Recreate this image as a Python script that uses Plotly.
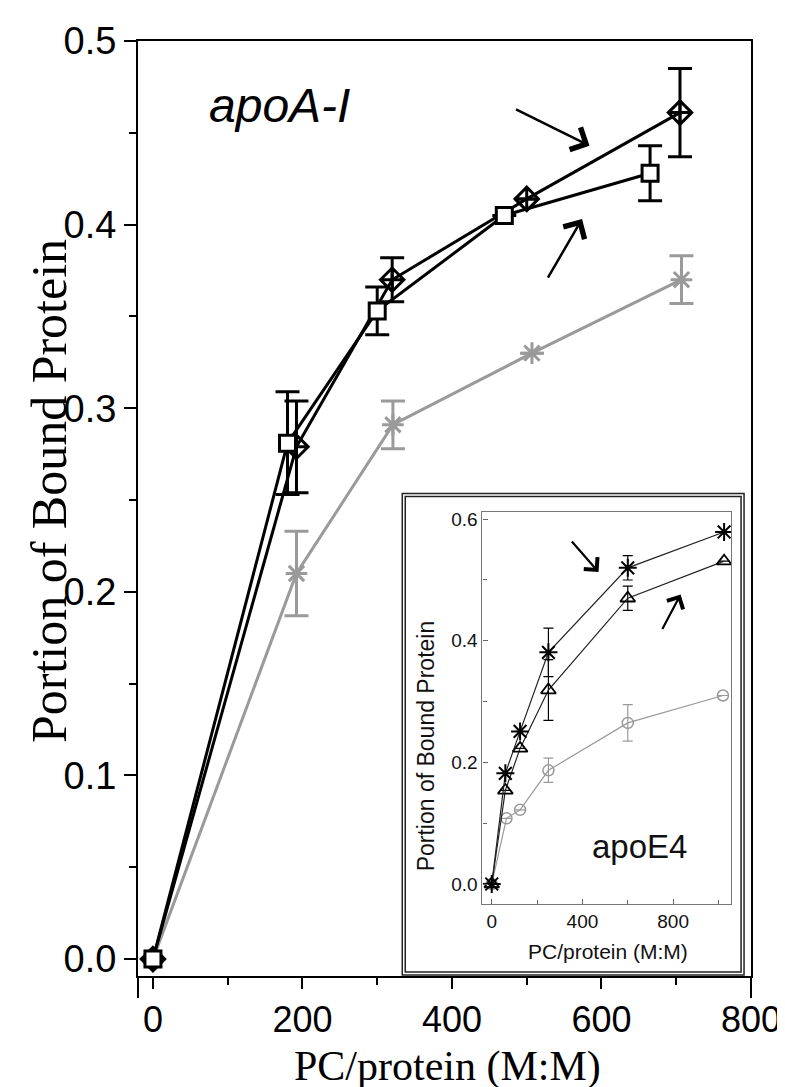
import plotly.graph_objects as go

nan = float("nan")

# ---------------- main chart data (apoA-I) ----------------
sq_x = [0, 180, 300, 470, 665]
sq_y = [0, 0.281, 0.353, 0.405, 0.428]
sq_err = [nan, 0.028, 0.013, nan, 0.015]

dm_x = [0, 192, 320, 500, 705]
dm_y = [0, 0.279, 0.370, 0.414, 0.461]
dm_err = [nan, 0.025, 0.012, nan, 0.024]

ga_x = [0, 192, 321, 507, 707]
ga_y = [0, 0.210, 0.291, 0.330, 0.370]
ga_err = [nan, 0.023, 0.013, nan, 0.013]

# ---------------- inset data (apoE4) ----------------
ia_x = [0, 60, 125, 250, 600, 1025]
ia_y = [0, 0.182, 0.251, 0.381, 0.520, 0.579]
ia_err = [nan, nan, nan, 0.040, 0.020, nan]

it_x = [0, 60, 125, 250, 600, 1025]
it_y = [0, 0.154, 0.223, 0.319, 0.470, 0.531]
it_err = [nan, nan, nan, 0.050, 0.020, nan]

ic_x = [0, 65, 125, 250, 600, 1020]
ic_y = [0, 0.108, 0.122, 0.187, 0.265, 0.310]
ic_err = [nan, nan, nan, 0.020, 0.030, nan]

main_ticks_x = [0, 200, 400, 600, 800]
main_ticks_y = [0.0, 0.1, 0.2, 0.3, 0.4, 0.5]
inset_ticks_x = [0, 400, 800]
inset_ticks_y = [0.0, 0.2, 0.4, 0.6]

SANS = "Liberation Sans, Arial, sans-serif"
SERIF = "Liberation Serif, Times New Roman, serif"
GRAY = "#9a9a9a"

fig = go.Figure()

# main traces
fig.add_trace(go.Scatter(
    x=ga_x, y=ga_y, mode="lines+markers",
    line=dict(color=GRAY, width=3),
    marker=dict(symbol="asterisk-open", size=18, color=GRAY, line=dict(color=GRAY, width=3)),
    error_y=dict(type="data", array=ga_err, color=GRAY, thickness=3, width=12),
    xaxis="x", yaxis="y", showlegend=False))
fig.add_trace(go.Scatter(
    x=dm_x, y=dm_y, mode="lines+markers",
    line=dict(color="black", width=3),
    marker=dict(symbol="diamond-cross-open", size=18, color="black", line=dict(color="black", width=3)),
    error_y=dict(type="data", array=dm_err, color="black", thickness=3, width=12),
    xaxis="x", yaxis="y", showlegend=False))
fig.add_trace(go.Scatter(
    x=sq_x, y=sq_y, mode="lines+markers",
    line=dict(color="black", width=3),
    marker=dict(symbol="square", size=16, color="white", line=dict(color="black", width=3)),
    error_y=dict(type="data", array=sq_err, color="black", thickness=3, width=12),
    xaxis="x", yaxis="y", showlegend=False))

# inset traces
fig.add_trace(go.Scatter(
    x=ic_x, y=ic_y, mode="lines+markers",
    line=dict(color=GRAY, width=1.2),
    marker=dict(symbol="circle-open", size=11, color=GRAY, line=dict(color=GRAY, width=1.5)),
    error_y=dict(type="data", array=ic_err, color=GRAY, thickness=1.2, width=5),
    xaxis="x2", yaxis="y2", showlegend=False))
fig.add_trace(go.Scatter(
    x=it_x, y=it_y, mode="lines+markers",
    line=dict(color="#222", width=1.2),
    marker=dict(symbol="triangle-up-open", size=13, color="black", line=dict(color="black", width=1.8)),
    error_y=dict(type="data", array=it_err, color="black", thickness=1.2, width=5),
    xaxis="x2", yaxis="y2", showlegend=False))
fig.add_trace(go.Scatter(
    x=ia_x, y=ia_y, mode="lines+markers",
    line=dict(color="#222", width=1.2),
    marker=dict(symbol="asterisk-open", size=15, color="black", line=dict(color="black", width=2)),
    error_y=dict(type="data", array=ia_err, color="black", thickness=1.2, width=5),
    xaxis="x2", yaxis="y2", showlegend=False))

W, H = 785, 1087
L, R, T, B = 130, 38, 32, 119
pw, ph = W - L - R, H - T - B


def px(xp):
    return (xp - L) / pw


def py(yp):
    return (H - B - yp) / ph


fig.update_layout(
    width=W, height=H,
    margin=dict(l=L, r=R, t=T, b=B),
    paper_bgcolor="white", plot_bgcolor="white",
    xaxis=dict(
        range=[-20, 800], tickvals=main_ticks_x, ticks="outside", ticklen=11, tickwidth=2,
        tickcolor="black", showline=True, linecolor="black", linewidth=2, mirror=True,
        showgrid=False, zeroline=False,
        tickfont=dict(family=SANS, size=36, color="black"),
        minor=dict(dtick=100, tick0=0, ticks="outside", ticklen=7, tickwidth=2, tickcolor="black"),
    ),
    yaxis=dict(
        range=[-0.0092, 0.5], tickvals=main_ticks_y, tickformat=".1f", ticks="outside",
        ticklen=12, tickwidth=2, tickcolor="black", showline=True, linecolor="black",
        linewidth=2, mirror=True, showgrid=False, zeroline=False,
        tickfont=dict(family=SANS, size=38, color="black"),
        minor=dict(dtick=0.05, tick0=0, ticks="outside", ticklen=7, tickwidth=2, tickcolor="black"),
    ),
    xaxis2=dict(
        domain=[px(476.7), px(727)], anchor="y2", range=[-41, 1056], tickvals=inset_ticks_x,
        ticks="inside", ticklen=5, tickwidth=1, tickcolor="#666", showline=True,
        linecolor="#777", linewidth=1.2, mirror=True, showgrid=False, zeroline=False,
        tickfont=dict(family=SANS, size=19, color="#111"),
        minor=dict(dtick=200, tick0=0, ticks="inside", ticklen=4, tickwidth=1, tickcolor="#666"),
    ),
    yaxis2=dict(
        domain=[py(896), py(504)], anchor="x2", range=[-0.033, 0.611], tickvals=inset_ticks_y,
        tickformat=".1f", ticks="inside", ticklen=5, tickwidth=1, tickcolor="#666",
        showline=True, linecolor="#777", linewidth=1.2, mirror=True, showgrid=False,
        zeroline=False, tickfont=dict(family=SANS, size=19, color="#111"),
        minor=dict(dtick=0.1, tick0=0, ticks="inside", ticklen=4, tickwidth=1, tickcolor="#666"),
    ),
)

shapes = []
# inset box (double line)
shapes.append(dict(type="rect", xref="paper", yref="paper", x0=px(396), x1=px(740),
                   y0=py(967), y1=py(485), line=dict(color="#222", width=1.5),
                   fillcolor="white", layer="below"))
shapes.append(dict(type="rect", xref="paper", yref="paper", x0=px(399), x1=px(737),
                   y0=py(964), y1=py(488), line=dict(color="#222", width=1.5), layer="below"))
# left/right frame extensions below the x axis
shapes.append(dict(type="line", xref="paper", yref="paper", x0=0, x1=0, y0=py(968), y1=py(990),
                   line=dict(color="black", width=2)))
shapes.append(dict(type="line", xref="paper", yref="paper", x0=1, x1=1, y0=py(968), y1=py(990),
                   line=dict(color="black", width=2)))
fig.update_layout(shapes=shapes)

ann = []
ann.append(dict(text="Portion of Bound Protein", xref="paper", yref="paper", x=px(40), y=py(483),
                textangle=-90, showarrow=False, font=dict(family=SERIF, size=50, color="black"),
                xanchor="center", yanchor="middle"))
ann.append(dict(text="PC/protein (M:M)", xref="paper", yref="paper", x=px(442), y=py(1059),
                showarrow=False, font=dict(family=SERIF, size=42, color="black"),
                xanchor="center", yanchor="middle"))
ann.append(dict(text="<i>apoA-I</i>", xref="paper", yref="paper", x=px(272), y=py(97),
                showarrow=False, font=dict(family=SANS, size=48, color="black"),
                xanchor="center", yanchor="middle"))
# inset labels
ann.append(dict(text="Portion of Bound Protein", xref="paper", yref="paper", x=px(420), y=py(738),
                textangle=-90, showarrow=False, font=dict(family=SANS, size=23, color="#111"),
                xanchor="center", yanchor="middle"))
ann.append(dict(text="PC/protein (M:M)", xref="paper", yref="paper", x=px(603), y=py(943),
                showarrow=False, font=dict(family=SANS, size=21, color="#111"),
                xanchor="center", yanchor="middle"))
ann.append(dict(text="apoE4", xref="paper", yref="paper", x=px(635), y=py(838),
                showarrow=False, font=dict(family=SANS, size=33, color="#111"),
                xanchor="center", yanchor="middle"))
# arrows (main)
ann.append(dict(x=584, y=0.443, xref="x", yref="y", ax=-75, ay=-37, text="", showarrow=True,
                arrowhead=4, arrowsize=1.9, arrowwidth=2.5, arrowcolor="black"))
ann.append(dict(x=574, y=0.403, xref="x", yref="y", ax=-35, ay=60, text="", showarrow=True,
                arrowhead=4, arrowsize=1.9, arrowwidth=2.5, arrowcolor="black"))
# arrows (inset)
ann.append(dict(x=471, y=0.513, xref="x2", yref="y2", ax=-28, ay=-32, text="", showarrow=True,
                arrowhead=4, arrowsize=1.6, arrowwidth=2.2, arrowcolor="black"))
ann.append(dict(x=833, y=0.476, xref="x2", yref="y2", ax=-19, ay=36, text="", showarrow=True,
                arrowhead=4, arrowsize=1.6, arrowwidth=2.2, arrowcolor="black"))
fig.update_layout(annotations=ann)

fig.write_html("out.html")
